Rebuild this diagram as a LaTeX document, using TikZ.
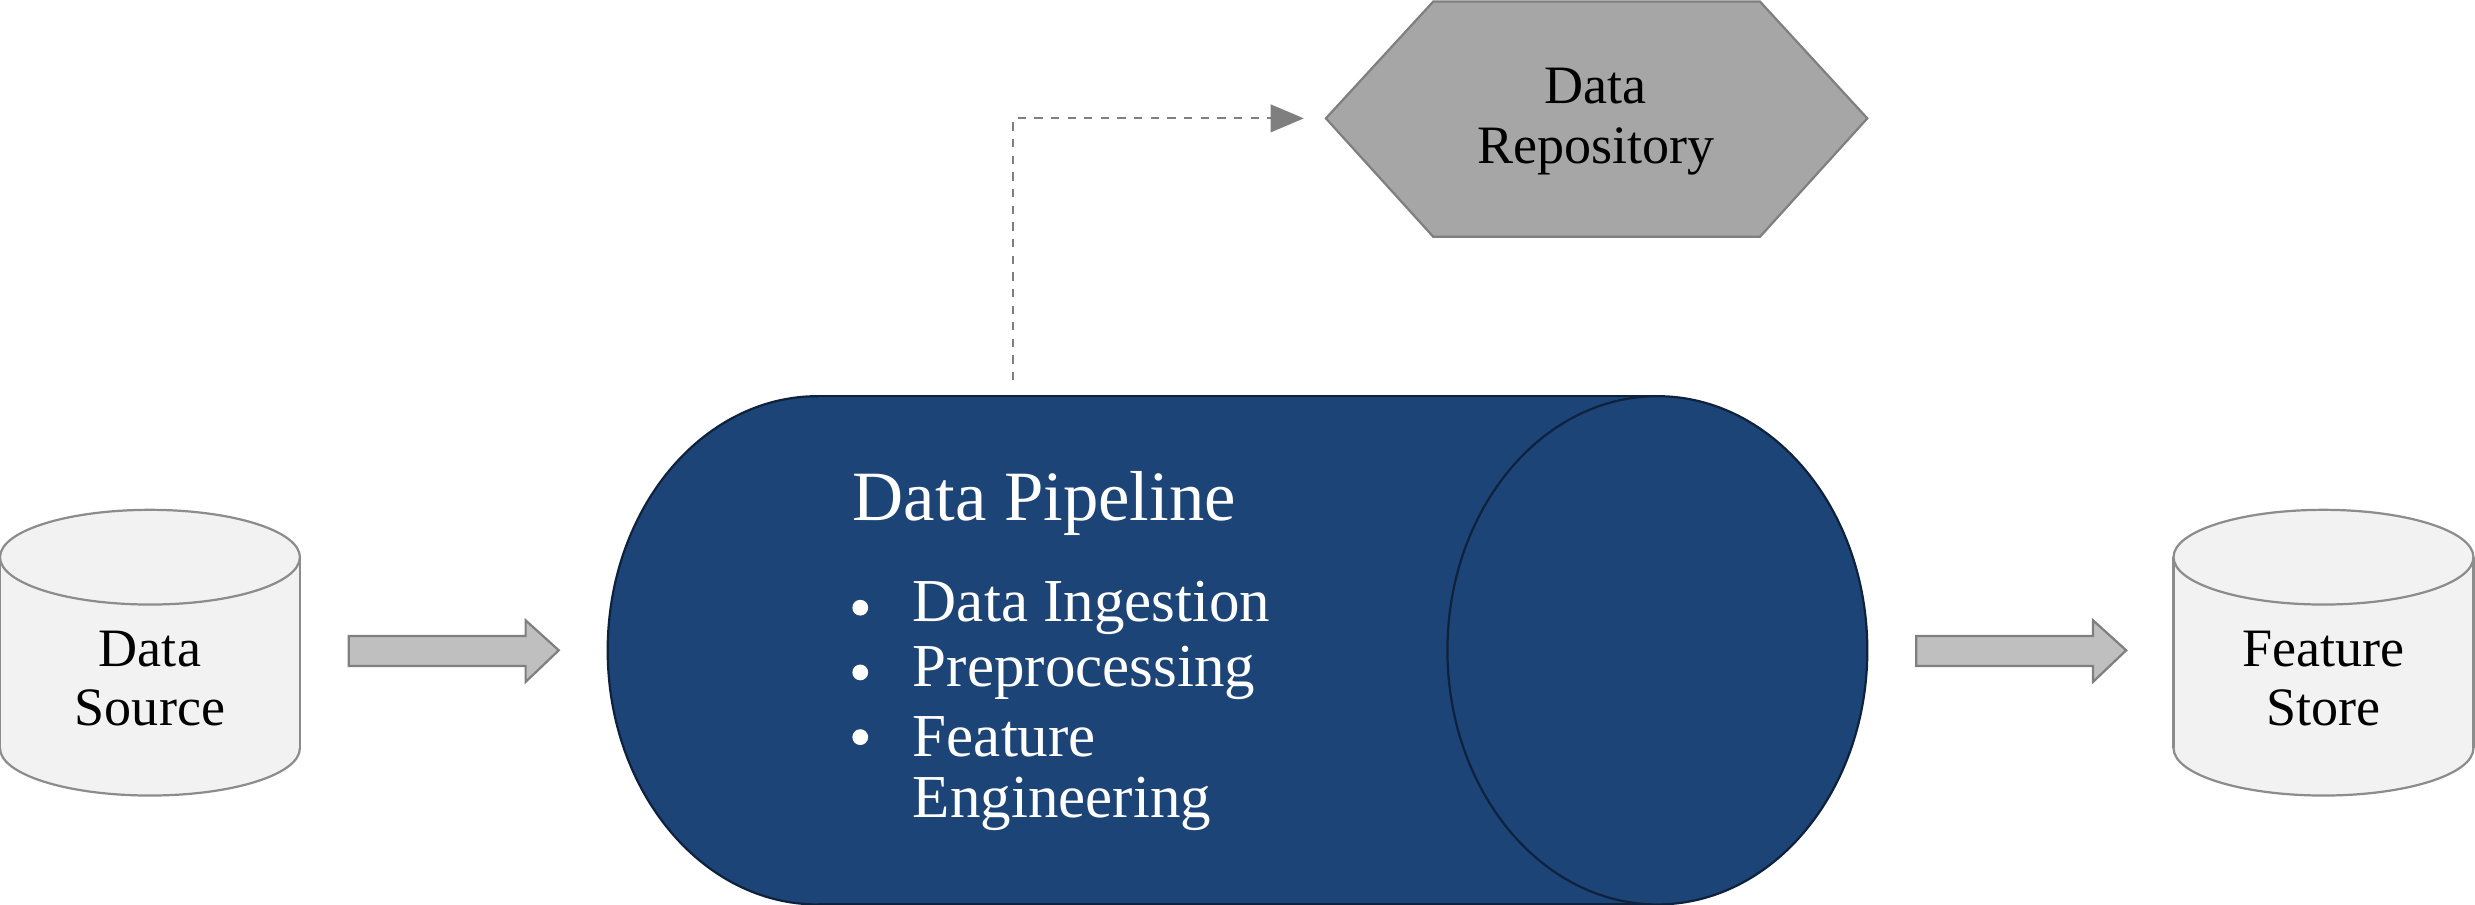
\documentclass[tikz,border=0pt]{standalone}
\usepackage{fontspec}
\usetikzlibrary{arrows.meta}
\setmainfont{Liberation Serif}
\definecolor{pipe}{HTML}{1D4477}
\definecolor{pipeline}{HTML}{0E223D}
\definecolor{cylfill}{HTML}{F2F2F2}
\definecolor{cylline}{HTML}{8C8C8C}
\definecolor{hexfill}{HTML}{A6A6A6}
\definecolor{hexline}{HTML}{7F7F7F}
\definecolor{arrfill}{HTML}{BFBFBF}
\begin{document}
\begin{tikzpicture}[x=0.02cm,y=-0.02cm,
  cyl/.style={fill=cylfill,draw=cylline,line width=0.8pt},
  lbl/.style={font=\fontsize{19.5}{21.5}\selectfont,align=center},
  item/.style={font=\fontsize{22}{26}\selectfont,text=white,anchor=west,inner sep=0},
  blk/.style={fill=arrfill,draw=hexline,line width=0.8pt}]
\useasboundingbox (0,0) rectangle (1568,573);
% Data source
\draw[cyl] (95,474) ellipse [x radius=95,y radius=30];
\fill[cylfill] (0,353) rectangle (190,474);
\draw[cylline,line width=0.8pt] (0,353)--(0,474) (190,353)--(190,474);
\draw[cyl] (95,353) ellipse [x radius=95,y radius=30];
\node[lbl] (src) at (95,430) {Data\\Source};
% Feature store
\draw[cyl] (1472,474) ellipse [x radius=95,y radius=30];
\fill[cylfill] (1377,353) rectangle (1567,474);
\draw[cylline,line width=0.8pt] (1377,353)--(1377,474) (1567,353)--(1567,474);
\draw[cyl] (1472,353) ellipse [x radius=95,y radius=30];
\node[lbl] (fs) at (1472,430) {Feature\\Store};
% block arrows
\draw[blk] (221,403)--(333,403)--(333,393)--(354,412)--(333,432)--(333,422)--(221,422)--cycle;
\draw[blk] (1214,403)--(1326,403)--(1326,393)--(1347,412)--(1326,432)--(1326,422)--(1214,422)--cycle;
% pipeline
\draw[fill=pipe,draw=pipeline,line width=0.8pt] (518,412) ellipse [x radius=133,y radius=161];
\fill[pipe] (518,251) rectangle (1050,573);
\draw[pipeline,line width=0.8pt] (518,251)--(1050,251) (518,573)--(1050,573);
\draw[fill=pipe,draw=pipeline,line width=0.8pt] (1050,412) ellipse [x radius=133,y radius=161];
\node[item,font=\fontsize{25.5}{30}\selectfont] (title) at (540,319) {Data Pipeline};
\foreach \y/\t in {385/Data Ingestion,426/Preprocessing,467/Feature,509/Engineering}{
  \node[item] at (578,\y) {\t};}
\foreach \y in {385,426,467}{\fill[white] (545,\y) circle (5);}
% hexagon
\draw[fill=hexfill,draw=hexline,line width=0.8pt] (840,75)--(908,1)--(1115,1)--(1183,75)--(1115,150)--(908,150)--cycle;
\node[lbl] (repo) at (1011,77) {Data\\Repository};
\coordinate (ds) at (642,241);
\coordinate (de) at (826,75);
\draw[dashed,hexline,line width=0.7pt,-{Triangle[length=12pt,width=10pt]}] (ds)--(642,75)--(de);
\end{tikzpicture}
\end{document}
